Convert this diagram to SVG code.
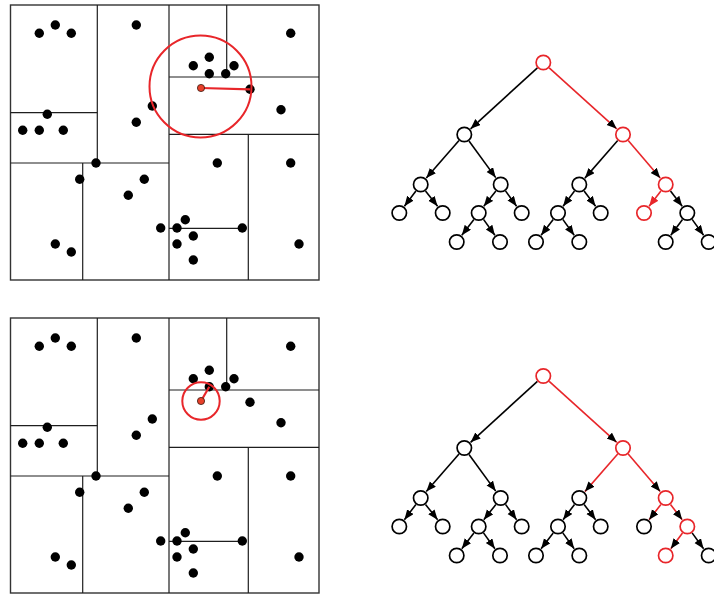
<svg xmlns="http://www.w3.org/2000/svg" xmlns:xlink="http://www.w3.org/1999/xlink" width="714" height="595" viewBox="0 0 714 595">
  <style>
    .frame { fill: none; stroke: #333; stroke-width: 1.4; }
    .split { fill: none; stroke: #1e1e1e; stroke-width: 1.2; }
    .pt { fill: #000; }
    .query { fill: #e8402a; stroke: #3a1a10; stroke-width: 0.8; }
    .reach { fill: none; stroke: #e8262a; stroke-width: 2; }
    .reach-line { stroke: #e8262a; stroke-width: 2.2; }
    .node { fill: #fff; stroke: #000; stroke-width: 1.7; }
    .node.hit { stroke: #e8262a; }
    .edge { fill: none; stroke: #000; stroke-width: 1.6; marker-end: url(#arrow); }
    .edge.hit { stroke: #e8262a; }
    .edge.hit-red { stroke: #e8262a; marker-end: url(#arrow-red); }
  </style>
  <defs>
    <marker id="arrow" markerUnits="userSpaceOnUse" markerWidth="11" markerHeight="9" refX="10" refY="4" orient="auto">
      <path d="M0,0 L10,4 L0,8 z" fill="#000"/>
    </marker>
    <marker id="arrow-red" markerUnits="userSpaceOnUse" markerWidth="11" markerHeight="9" refX="10" refY="4" orient="auto">
      <path d="M0,0 L10,4 L0,8 z" fill="#e8262a"/>
    </marker>
    <!-- kd partition of the plane with its point set -->
    <g id="partition">
      <rect class="frame" x="10.5" y="5" width="308.5" height="275"/>
      <line class="split" x1="169" y1="5" x2="169" y2="280"/>
      <line class="split" x1="97.3" y1="5" x2="97.3" y2="163"/>
      <line class="split" x1="10.5" y1="112.7" x2="97.3" y2="112.7"/>
      <line class="split" x1="10.5" y1="163" x2="169" y2="163"/>
      <line class="split" x1="82.7" y1="163" x2="82.7" y2="280"/>
      <line class="split" x1="226.7" y1="5" x2="226.7" y2="77"/>
      <line class="split" x1="169" y1="77" x2="319" y2="77"/>
      <line class="split" x1="169" y1="134.3" x2="319" y2="134.3"/>
      <line class="split" x1="248.3" y1="134.3" x2="248.3" y2="280"/>
      <line class="split" x1="169" y1="228.3" x2="242.3" y2="228.3"/>
      <circle class="pt" cx="39.3" cy="33.3" r="4.7"/>
      <circle class="pt" cx="55.3" cy="25" r="4.7"/>
      <circle class="pt" cx="71.3" cy="33.3" r="4.7"/>
      <circle class="pt" cx="136.3" cy="25" r="4.7"/>
      <circle class="pt" cx="290.7" cy="33.3" r="4.7"/>
      <circle class="pt" cx="209.3" cy="57.3" r="4.7"/>
      <circle class="pt" cx="193.3" cy="65.7" r="4.7"/>
      <circle class="pt" cx="234" cy="65.7" r="4.7"/>
      <circle class="pt" cx="209.3" cy="73.7" r="4.7"/>
      <circle class="pt" cx="225.7" cy="73.7" r="4.7"/>
      <circle class="pt" cx="250" cy="89.3" r="4.7"/>
      <circle class="pt" cx="152.3" cy="106" r="4.7"/>
      <circle class="pt" cx="281" cy="109.7" r="4.7"/>
      <circle class="pt" cx="47.3" cy="114.3" r="4.7"/>
      <circle class="pt" cx="22.7" cy="130.3" r="4.7"/>
      <circle class="pt" cx="39.3" cy="130.3" r="4.7"/>
      <circle class="pt" cx="63.3" cy="130.3" r="4.7"/>
      <circle class="pt" cx="136.3" cy="122.3" r="4.7"/>
      <circle class="pt" cx="96" cy="163" r="4.7"/>
      <circle class="pt" cx="217.3" cy="163" r="4.7"/>
      <circle class="pt" cx="290.7" cy="163" r="4.7"/>
      <circle class="pt" cx="79.7" cy="179.3" r="4.7"/>
      <circle class="pt" cx="144.3" cy="179.3" r="4.7"/>
      <circle class="pt" cx="128.3" cy="195.3" r="4.7"/>
      <circle class="pt" cx="185.3" cy="219.7" r="4.7"/>
      <circle class="pt" cx="160.7" cy="228" r="4.7"/>
      <circle class="pt" cx="177" cy="228" r="4.7"/>
      <circle class="pt" cx="242.3" cy="228" r="4.7"/>
      <circle class="pt" cx="193.3" cy="236" r="4.7"/>
      <circle class="pt" cx="177" cy="244" r="4.7"/>
      <circle class="pt" cx="193.3" cy="260" r="4.7"/>
      <circle class="pt" cx="55.3" cy="244" r="4.7"/>
      <circle class="pt" cx="71.3" cy="252" r="4.7"/>
      <circle class="pt" cx="299" cy="244" r="4.7"/>
    </g>
  </defs>

  <!-- upper plane: first candidate and its search radius -->
  <g id="plane-upper">
    <use xlink:href="#partition"/>
    <circle class="reach" cx="200.5" cy="86.5" r="51"/>
    <line class="reach-line" x1="201" y1="88" x2="250" y2="89.3"/>
    <circle class="query" cx="201" cy="88" r="3.6"/>
  </g>

  <!-- lower plane: nearest neighbour found, radius shrunk -->
  <g id="plane-lower" transform="translate(0,313)">
    <use xlink:href="#partition"/>
    <circle class="reach" cx="201" cy="88" r="18.7" stroke-width="1.6"/>
    <line class="reach-line" x1="201" y1="88" x2="209.3" y2="73.7"/>
    <circle class="query" cx="201" cy="88" r="3.6"/>
  </g>

  <!-- upper tree: descent to the leaf -->
  <g id="tree-upper">
    <g id="edges-upper">
      <line class="edge hit" x1="549.2" y1="67.9" x2="616.7" y2="128.8"/>
      <line class="edge" x1="537.4" y1="67.9" x2="470.6" y2="128.8"/>
      <line class="edge" x1="459.0" y1="140.5" x2="426.3" y2="178.1"/>
      <line class="edge" x1="469.0" y1="141.0" x2="495.7" y2="177.6"/>
      <line class="edge" x1="617.7" y1="140.5" x2="584.9" y2="178.1"/>
      <line class="edge hit" x1="628.2" y1="140.6" x2="660.2" y2="178.0"/>
      <line class="edge" x1="415.9" y1="190.9" x2="404.4" y2="206.2"/>
      <line class="edge" x1="425.5" y1="190.9" x2="437.6" y2="206.2"/>
      <line class="edge" x1="495.9" y1="190.9" x2="483.8" y2="206.2"/>
      <line class="edge" x1="505.5" y1="190.9" x2="516.6" y2="206.2"/>
      <line class="edge" x1="574.5" y1="190.9" x2="563.1" y2="206.2"/>
      <line class="edge" x1="584.1" y1="190.9" x2="595.6" y2="206.2"/>
      <line class="edge hit-red" x1="660.9" y1="190.9" x2="649.1" y2="206.2"/>
      <line class="edge" x1="670.5" y1="190.9" x2="682.2" y2="206.2"/>
      <line class="edge" x1="473.9" y1="219.4" x2="461.8" y2="235.2"/>
      <line class="edge" x1="483.5" y1="219.4" x2="494.9" y2="235.2"/>
      <line class="edge" x1="553.2" y1="219.4" x2="541.1" y2="235.2"/>
      <line class="edge" x1="562.8" y1="219.4" x2="574.2" y2="235.2"/>
      <line class="edge" x1="682.5" y1="219.4" x2="670.8" y2="235.2"/>
      <line class="edge" x1="692.1" y1="219.4" x2="703.6" y2="235.2"/>
    </g>
    <g id="u-n0"><circle class="node hit" cx="543.3" cy="62.5" r="7.2"/></g>
    <g id="u-n1"><circle class="node" cx="464.3" cy="134.5" r="7.2"/></g>
    <g id="u-n2"><circle class="node hit" cx="623" cy="134.5" r="7.2"/></g>
    <g id="u-n3"><circle class="node" cx="420.7" cy="184.5" r="7.2"/></g>
    <g id="u-n4"><circle class="node" cx="500.7" cy="184.5" r="7.2"/></g>
    <g id="u-n5"><circle class="node" cx="579.3" cy="184.5" r="7.2"/></g>
    <g id="u-n6"><circle class="node hit" cx="665.7" cy="184.5" r="7.2"/></g>
    <g id="u-n7"><circle class="node" cx="399.3" cy="213" r="7.2"/></g>
    <g id="u-n8"><circle class="node" cx="442.7" cy="213" r="7.2"/></g>
    <g id="u-n9"><circle class="node" cx="478.7" cy="213" r="7.2"/></g>
    <g id="u-n10"><circle class="node" cx="521.7" cy="213" r="7.2"/></g>
    <g id="u-n11"><circle class="node" cx="558" cy="213" r="7.2"/></g>
    <g id="u-n12"><circle class="node" cx="600.7" cy="213" r="7.2"/></g>
    <g id="u-n13"><circle class="node hit" cx="644" cy="213" r="7.2"/></g>
    <g id="u-n14"><circle class="node" cx="687.3" cy="213" r="7.2"/></g>
    <g id="u-n15"><circle class="node" cx="456.7" cy="242" r="7.2"/></g>
    <g id="u-n16"><circle class="node" cx="500" cy="242" r="7.2"/></g>
    <g id="u-n17"><circle class="node" cx="536" cy="242" r="7.2"/></g>
    <g id="u-n18"><circle class="node" cx="579.3" cy="242" r="7.2"/></g>
    <g id="u-n19"><circle class="node" cx="665.7" cy="242" r="7.2"/></g>
    <g id="u-n20"><circle class="node" cx="708.7" cy="242" r="7.2"/></g>
  </g>

  <!-- lower tree: backtracking path -->
  <g id="tree-lower" transform="translate(0,313.5)">
    <g id="edges-lower">
      <line class="edge hit" x1="549.2" y1="67.9" x2="616.7" y2="128.8"/>
      <line class="edge" x1="537.4" y1="67.9" x2="470.6" y2="128.8"/>
      <line class="edge" x1="459.0" y1="140.5" x2="426.3" y2="178.1"/>
      <line class="edge" x1="469.0" y1="141.0" x2="495.7" y2="177.6"/>
      <line class="edge hit" x1="617.7" y1="140.5" x2="584.9" y2="178.1"/>
      <line class="edge hit" x1="628.2" y1="140.6" x2="660.2" y2="178.0"/>
      <line class="edge" x1="415.9" y1="190.9" x2="404.4" y2="206.2"/>
      <line class="edge" x1="425.5" y1="190.9" x2="437.6" y2="206.2"/>
      <line class="edge" x1="495.9" y1="190.9" x2="483.8" y2="206.2"/>
      <line class="edge" x1="505.5" y1="190.9" x2="516.6" y2="206.2"/>
      <line class="edge" x1="574.5" y1="190.9" x2="563.1" y2="206.2"/>
      <line class="edge" x1="584.1" y1="190.9" x2="595.6" y2="206.2"/>
      <line class="edge hit" x1="660.9" y1="190.9" x2="649.1" y2="206.2"/>
      <line class="edge hit" x1="670.5" y1="190.9" x2="682.2" y2="206.2"/>
      <line class="edge" x1="473.9" y1="219.4" x2="461.8" y2="235.2"/>
      <line class="edge" x1="483.5" y1="219.4" x2="494.9" y2="235.2"/>
      <line class="edge" x1="553.2" y1="219.4" x2="541.1" y2="235.2"/>
      <line class="edge" x1="562.8" y1="219.4" x2="574.2" y2="235.2"/>
      <line class="edge hit" x1="682.5" y1="219.4" x2="670.8" y2="235.2"/>
      <line class="edge" x1="692.1" y1="219.4" x2="703.6" y2="235.2"/>
    </g>
    <g id="l-n0"><circle class="node hit" cx="543.3" cy="62.5" r="7.2"/></g>
    <g id="l-n1"><circle class="node" cx="464.3" cy="134.5" r="7.2"/></g>
    <g id="l-n2"><circle class="node hit" cx="623" cy="134.5" r="7.2"/></g>
    <g id="l-n3"><circle class="node" cx="420.7" cy="184.5" r="7.2"/></g>
    <g id="l-n4"><circle class="node" cx="500.7" cy="184.5" r="7.2"/></g>
    <g id="l-n5"><circle class="node" cx="579.3" cy="184.5" r="7.2"/></g>
    <g id="l-n6"><circle class="node hit" cx="665.7" cy="184.5" r="7.2"/></g>
    <g id="l-n7"><circle class="node" cx="399.3" cy="213" r="7.2"/></g>
    <g id="l-n8"><circle class="node" cx="442.7" cy="213" r="7.2"/></g>
    <g id="l-n9"><circle class="node" cx="478.7" cy="213" r="7.2"/></g>
    <g id="l-n10"><circle class="node" cx="521.7" cy="213" r="7.2"/></g>
    <g id="l-n11"><circle class="node" cx="558" cy="213" r="7.2"/></g>
    <g id="l-n12"><circle class="node" cx="600.7" cy="213" r="7.2"/></g>
    <g id="l-n13"><circle class="node" cx="644" cy="213" r="7.2"/></g>
    <g id="l-n14"><circle class="node hit" cx="687.3" cy="213" r="7.2"/></g>
    <g id="l-n15"><circle class="node" cx="456.7" cy="242" r="7.2"/></g>
    <g id="l-n16"><circle class="node" cx="500" cy="242" r="7.2"/></g>
    <g id="l-n17"><circle class="node" cx="536" cy="242" r="7.2"/></g>
    <g id="l-n18"><circle class="node" cx="579.3" cy="242" r="7.2"/></g>
    <g id="l-n19"><circle class="node hit" cx="665.7" cy="242" r="7.2"/></g>
    <g id="l-n20"><circle class="node" cx="708.7" cy="242" r="7.2"/></g>
  </g>
</svg>
